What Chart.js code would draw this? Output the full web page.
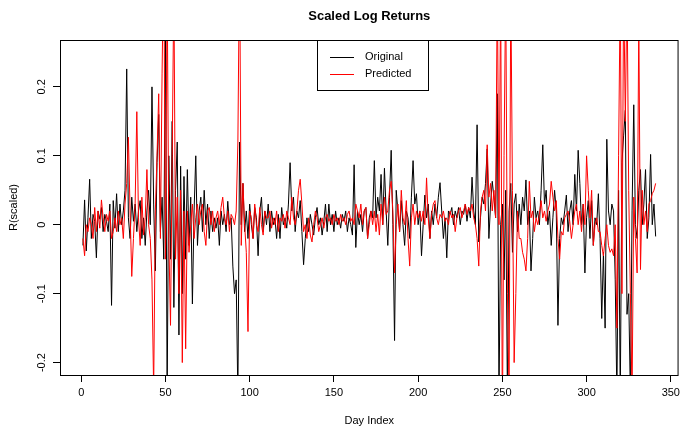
<!DOCTYPE html>
<html>
<head>
<meta charset="utf-8">
<script src="https://cdn.jsdelivr.net/npm/chart.js@4/dist/chart.umd.min.js"></script>
<style>
  html, body { margin: 0; padding: 0; background: #fff; }
  #wrap { width: 684px; height: 429px; }
</style>
</head>
<body>
<div id="wrap"><canvas id="myChart" width="684" height="429"></canvas></div>
<script>
"use strict";

// Scaled log returns (day 1 .. 341)
const original = [
  // 1-20
  -0.03, 0.036, -0.038, 0.01, 0.066, -0.02, 0.015, 0.005, -0.048, 0.02, 0.008, 0.025, -0.01, 0.015, 0.005, -0.01, 0.03, -0.117, 0.035, -0.005,
  // 21-50
  0.045, -0.01, 0.03, 0.0, 0.02, 0.05, 0.226, 0.01, -0.02, 0.04, 0.005, 0.03, -0.01, 0.02, 0.035, -0.02, 0.01, -0.03, 0.02, 0.05, 0.0, 0.2, 0.03, -0.067, 0.09, 0.16, -0.01, 0.04, -0.05, 0.3,
  // 51-65
  -0.25, 0.1, -0.05, 0.15, -0.12, 0.05, 0.12, -0.16, 0.085, -0.1, 0.07, -0.05, 0.08, -0.03, 0.04,
  // 66-80
  -0.115, 0.02, 0.1, -0.03, 0.02, 0.04, -0.01, 0.05, 0.0, 0.03, -0.02, 0.02, -0.01, 0.01, -0.005,
  // 81-110
  0.01, -0.03, 0.02, 0.0, 0.015, -0.01, 0.034, 0.0, 0.01, -0.06, -0.1, -0.08, -0.25, 0.12, 0.0, 0.06, -0.01, 0.02, -0.02, 0.03, 0.0, -0.02, 0.025, 0.01, -0.045, 0.02, 0.04, -0.01, 0.02, 0.0,
  // 111-141
  0.03, -0.01, 0.02, 0.0, 0.01, -0.02, 0.015, -0.02, 0.025, 0.0, 0.01, -0.005, 0.03, 0.09, 0.02, 0.04, -0.01, 0.02, 0.01, 0.035, -0.01, -0.058, -0.02, 0.01, -0.01, 0.015, 0.0, -0.015, 0.01, 0.025, 0.0,
  // 142-172
  0.01, -0.015, 0.005, 0.03, -0.01, 0.03, 0.0, 0.015, -0.01, 0.02, 0.0, 0.01, -0.005, 0.015, 0.005, 0.02, -0.01, 0.01, 0.0, -0.015, 0.087, -0.033, 0.02, 0.0, 0.015, -0.01, 0.02, 0.025, -0.02, 0.01, 0.02,
  // 173-202
  0.01, 0.093, 0.01, 0.04, 0.02, 0.073, 0.0, 0.082, 0.02, -0.03, 0.04, 0.108, 0.0, -0.168, 0.05, 0.02, -0.01, 0.035, 0.0, -0.03, 0.02, 0.01, -0.02, 0.04, 0.093, 0.03, 0.045, 0.0, 0.02, -0.045,
  // 203-233
  0.0, 0.043, 0.01, 0.03, -0.02, 0.02, 0.0, 0.03, 0.01, 0.04, 0.061, 0.02, -0.02, 0.01, -0.048, 0.02, 0.015, 0.025, 0.0, 0.02, 0.01, 0.025, 0.0, 0.02, 0.015, 0.03, 0.005, 0.025, 0.01, 0.069, 0.02,
  // 234-262
  0.0, 0.145, -0.025, 0.01, 0.04, 0.03, 0.06, 0.11, -0.02, 0.03, 0.063, 0.04, 0.01, 0.19, -0.25, 0.0, 0.03, -0.08, 0.05, -0.25, 0.02, 0.06, -0.04, 0.03, 0.045, -0.01, 0.03, 0.0, 0.04,
  // 263-293
  0.02, 0.065, 0.0, 0.02, -0.067, -0.02, 0.04, 0.01, 0.02, 0.0, 0.05, 0.116, 0.03, 0.05, 0.0, 0.02, -0.03, 0.01, 0.05, 0.02, -0.146, -0.02, 0.01, 0.0, 0.02, 0.043, -0.01, 0.02, 0.035, 0.0, 0.073,
  // 294-324
  0.02, 0.108, 0.06, 0.0, 0.03, -0.07, 0.01, 0.035, -0.02, 0.035, -0.03, 0.01, 0.0, 0.045, -0.02, -0.136, -0.04, -0.15, 0.124, 0.02, 0.0, 0.03, 0.02, -0.08, -0.25, 0.05, -0.25, 0.09, 0.13, 0.166, -0.13,
  // 325-341
  -0.1, -0.25, 0.02, 0.174, 0.0, -0.02, 0.05, 0.08, 0.0, 0.03, 0.08, -0.02, 0.01, 0.102, 0.0, 0.03, -0.017
];

const predicted = [
  // 1-20
  -0.02, -0.045, 0.0, -0.01, 0.01, 0.0, -0.02, 0.025, -0.01, 0.02, -0.005, 0.036, 0.01, -0.01, 0.015, 0.005, 0.02, -0.02, -0.01, 0.01,
  // 21-50
  -0.01, 0.02, 0.0, 0.01, -0.02, 0.03, 0.06, 0.127, 0.02, -0.075, -0.02, 0.03, 0.164, 0.01, -0.03, 0.04, -0.015, 0.01, 0.08, 0.0, -0.02, -0.08, -0.24, 0.02, 0.1, 0.19, -0.02, 0.22, 0.4, -0.05,
  // 51-65
  0.35, -0.02, -0.146, 0.1, 0.35, -0.05, 0.04, -0.1, 0.05, -0.2, 0.02, -0.18, 0.02, -0.04, 0.0,
  // 66-80
  0.03, -0.02, 0.01, 0.03, 0.0, 0.02, 0.03, -0.01, -0.03, 0.02, 0.025, 0.0, 0.02, -0.01, 0.01,
  // 81-110
  0.02, 0.0, 0.025, 0.04, 0.01, 0.0, 0.02, -0.01, 0.015, 0.01, 0.0, 0.02, 0.12, 0.4, -0.03, 0.06, 0.0, -0.04, -0.155, 0.02, 0.01, -0.02, 0.03, 0.0, -0.01, 0.025, 0.0, -0.015, 0.02, 0.01,
  // 111-141
  0.01, 0.02, -0.005, 0.01, 0.0, 0.02, -0.01, 0.01, 0.005, 0.015, -0.005, 0.02, 0.01, 0.0, 0.04, 0.01, 0.0, 0.02, 0.05, 0.066, 0.03, -0.01, 0.0, -0.02, 0.01, -0.015, -0.025, 0.0, 0.02, 0.01, -0.01,
  // 142-172
  0.0, 0.01, -0.005, 0.01, 0.015, 0.005, 0.01, 0.0, 0.015, 0.005, 0.01, 0.0, 0.015, 0.005, 0.01, 0.0, 0.015, 0.02, 0.005, 0.01, 0.0, 0.03, 0.02, 0.01, 0.03, 0.0, 0.02, 0.025, -0.02, 0.0, 0.02,
  // 173-202
  0.0, 0.02, -0.01, 0.015, -0.015, 0.03, 0.0, 0.04, 0.015, 0.02, 0.05, 0.063, 0.02, -0.07, 0.0, 0.03, -0.01, 0.05, 0.01, 0.0, 0.035, -0.02, -0.06, 0.01, 0.03, 0.0, 0.02, 0.01, 0.02, 0.005,
  // 203-233
  0.02, 0.0, 0.068, 0.01, -0.02, 0.015, 0.03, 0.035, 0.01, 0.0, 0.015, 0.01, 0.02, 0.005, 0.01, 0.0, 0.02, 0.01, 0.015, -0.01, 0.01, 0.02, 0.025, 0.01, 0.02, 0.03, 0.015, 0.025, 0.02, 0.03, 0.01,
  // 234-262
  0.0, -0.02, -0.06, 0.02, 0.04, 0.05, 0.02, 0.116, 0.04, 0.06, 0.02, 0.05, 0.01, 0.35, 0.0, 0.35, -0.3, 0.1, 0.35, -0.1, -0.25, 0.35, 0.05, -0.2, -0.1, 0.02, -0.02, -0.02, -0.04,
  // 263-293
  -0.05, -0.067, -0.02, 0.063, 0.01, 0.02, -0.01, 0.01, 0.0, 0.015, 0.035, 0.01, 0.02, 0.005, 0.02, 0.03, 0.063, 0.04, 0.02, 0.035, -0.02, -0.05, -0.01, -0.015, 0.01, 0.015, 0.02, 0.005, -0.02, 0.0, 0.02,
  // 294-324
  0.03, 0.0, 0.02, -0.01, 0.03, 0.0, 0.1, 0.05, 0.01, 0.05, -0.03, 0.0, 0.01, -0.01, -0.01, -0.03, -0.045, -0.02, 0.0, -0.03, -0.04, -0.035, -0.045, 0.0, -0.15, 0.1, 0.35, -0.1, 0.35, 0.15, 0.35,
  // 325-341
  0.05, -0.1, -0.25, 0.04, -0.02, -0.07, 0.3, -0.065, 0.05, 0.0, 0.02, -0.01, 0.03, 0.035, 0.045, 0.05, 0.06
];

const dayIndex = original.map((v, i) => i + 1);
const xTicks = [0, 50, 100, 150, 200, 250, 300, 350];
const yTicks = [-0.2, -0.1, 0, 0.1, 0.2];
const seriesNames = ["Original", "Predicted"];
const seriesColors = ["#000000", "#ff0000"];

const FONT = "'Liberation Sans', Arial, sans-serif";

// Title, axis labels, rotated y tick labels, box and legend in R style
const rStyle = {
  id: "rStyle",
  afterDraw(chart) {
    const ctx = chart.ctx;
    const area = chart.chartArea;
    const yScale = chart.scales.y;
    const midX = (area.left + area.right) / 2;

    ctx.save();
    ctx.strokeStyle = "#000";
    ctx.lineWidth = 1;
    ctx.strokeRect(area.left + 0.5, area.top + 0.5, area.right - area.left - 1, area.bottom - area.top);

    ctx.fillStyle = "#000";
    ctx.textAlign = "center";
    ctx.textBaseline = "middle";
    ctx.font = "bold 13px " + FONT;
    ctx.fillText("Scaled Log Returns", midX, 16);

    ctx.font = "11px " + FONT;
    ctx.fillText("Day Index", midX, 421);

    ctx.save();
    ctx.translate(14, (area.top + area.bottom) / 2);
    ctx.rotate(-Math.PI / 2);
    ctx.fillText("R(scaled)", 0, 0);
    ctx.restore();

    yTicks.forEach(t => {
      const py = yScale.getPixelForValue(t);
      ctx.save();
      ctx.translate(42, py);
      ctx.rotate(-Math.PI / 2);
      ctx.fillText(String(t), 0, 0);
      ctx.restore();
    });

    // legend box
    const lx = 317, ly = area.top, lw = 111, lh = 50;
    ctx.fillStyle = "#fff";
    ctx.fillRect(lx + 0.5, ly + 0.5, lw, lh);
    ctx.strokeRect(lx + 0.5, ly + 0.5, lw, lh);
    seriesNames.forEach((name, i) => {
      const rowY = ly + 17 + i * 17;
      ctx.strokeStyle = seriesColors[i];
      ctx.beginPath();
      ctx.moveTo(330, rowY + 0.5);
      ctx.lineTo(354, rowY + 0.5);
      ctx.stroke();
      ctx.fillStyle = "#000";
      ctx.textAlign = "left";
      ctx.fillText(name, 365, rowY);
    });
    ctx.restore();
  }
};

const ctx = document.getElementById("myChart").getContext("2d");

new Chart(ctx, {
  type: "line",
  data: {
    datasets: [
      {
        label: seriesNames[1],
        data: predicted.map((v, i) => ({ x: dayIndex[i], y: v })),
        borderColor: seriesColors[1],
        borderWidth: 1,
        pointRadius: 0,
        tension: 0,
        order: 0
      },
      {
        label: seriesNames[0],
        data: original.map((v, i) => ({ x: dayIndex[i], y: v })),
        borderColor: seriesColors[0],
        borderWidth: 1,
        pointRadius: 0,
        tension: 0,
        order: 1
      }
    ]
  },
  options: {
    responsive: false,
    animation: false,
    devicePixelRatio: 1,
    layout: { padding: { left: 0, right: 1, top: 40, bottom: 0 } },
    plugins: {
      legend: { display: false },
      tooltip: { enabled: false }
    },
    scales: {
      x: {
        type: "linear",
        min: -12.6,
        max: 354.6,
        afterFit: scale => { scale.height = 54; },
        afterBuildTicks: scale => { scale.ticks = xTicks.map(v => ({ value: v })); },
        grid: { drawOnChartArea: false, drawTicks: true, tickLength: 7, color: "#000" },
        border: { display: false },
        ticks: {
          color: "#000",
          padding: 4,
          maxRotation: 0,
          autoSkip: false,
          font: { family: FONT, size: 11 }
        }
      },
      y: {
        type: "linear",
        min: -0.218,
        max: 0.268,
        afterFit: scale => { scale.width = 60; },
        afterBuildTicks: scale => { scale.ticks = yTicks.map(v => ({ value: v })); },
        grid: { drawOnChartArea: false, drawTicks: true, tickLength: 7, color: "#000" },
        border: { display: false },
        ticks: { display: false }
      }
    }
  },
  plugins: [rStyle]
});
</script>
</body>
</html>
